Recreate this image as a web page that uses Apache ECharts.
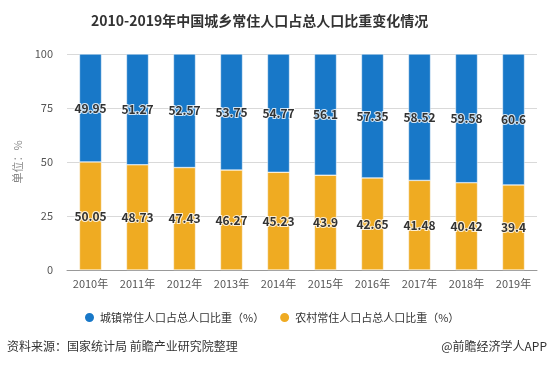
<!DOCTYPE html>
<html><head><meta charset="utf-8">
<script src="https://cdn.jsdelivr.net/npm/echarts@6/dist/echarts.min.js"></script>
<style>html,body{margin:0;padding:0;background:#fff}#c{width:554px;height:365px}</style>
</head><body><div id="c"></div>
<script>
var categories = ['2010年','2011年','2012年','2013年','2014年','2015年','2016年','2017年','2018年','2019年'];
var urbanValues = [49.95,51.27,52.57,53.75,54.77,56.1,57.35,58.52,59.58,60.6];
var ruralValues = [50.05,48.73,47.43,46.27,45.23,43.9,42.65,41.48,40.42,39.4];
var yTicks = [0,25,50,75,100];
var urbanName = '城镇常住人口占总人口比重（%）';
var ruralName = '农村常住人口占总人口比重（%）';
var font = '"Microsoft YaHei","Noto Sans CJK SC",sans-serif';
var chart = echarts.init(document.getElementById('c'));
var lbl = {show:true,position:'inside',color:'#333',fontSize:12,fontWeight:'bold',fontFamily:font,textBorderColor:'rgba(255,255,255,0.8)',textBorderWidth:2};
chart.setOption({
  animation:false,
  textStyle:{fontFamily:font},
  title:{text:'2010-2019年中国城乡常住人口占总人口比重变化情况',left:86,top:9,textStyle:{fontSize:14,fontWeight:'bold',color:'#333',fontFamily:font}},
  legend:{data:[urbanName,ruralName],top:306,left:78,icon:'circle',itemWidth:11,itemHeight:11,itemGap:14,textStyle:{fontSize:11,color:'#333',fontFamily:font}},
  grid:{left:67,right:17,top:54,bottom:95},
  xAxis:{type:'category',data:categories,axisLine:{lineStyle:{color:'#999'}},axisTick:{alignWithLabel:true,lineStyle:{color:'#999'}},axisLabel:{color:'#555',fontSize:11,margin:8}},
  yAxis:{type:'value',min:yTicks[0],max:yTicks[yTicks.length-1],interval:25,name:'单位：%',nameLocation:'middle',nameGap:42,nameRotate:90,nameTextStyle:{color:'#888',fontSize:11},
    axisLine:{show:false},axisTick:{show:false},axisLabel:{color:'#555',fontSize:11,margin:14},splitLine:{lineStyle:{color:'#d9d9d9'}}},
  series:[
    {name:ruralName,type:'bar',stack:'a',data:ruralValues,barWidth:'47%',itemStyle:{color:'#efab22',borderColor:'#fff',borderWidth:0.5},label:lbl},
    {name:urbanName,type:'bar',stack:'a',data:urbanValues,barWidth:'47%',itemStyle:{color:'#1878c8',borderColor:'#fff',borderWidth:0.5},label:lbl}
  ],
  graphic:[
    {type:'text',left:7,top:340,style:{text:'资料来源：国家统计局 前瞻产业研究院整理',fill:'#333',font:'12px '+font}},
    {type:'text',right:7,top:340,style:{text:'@前瞻经济学人APP',fill:'#333',font:'12px '+font}}
  ]
});
</script></body></html>
